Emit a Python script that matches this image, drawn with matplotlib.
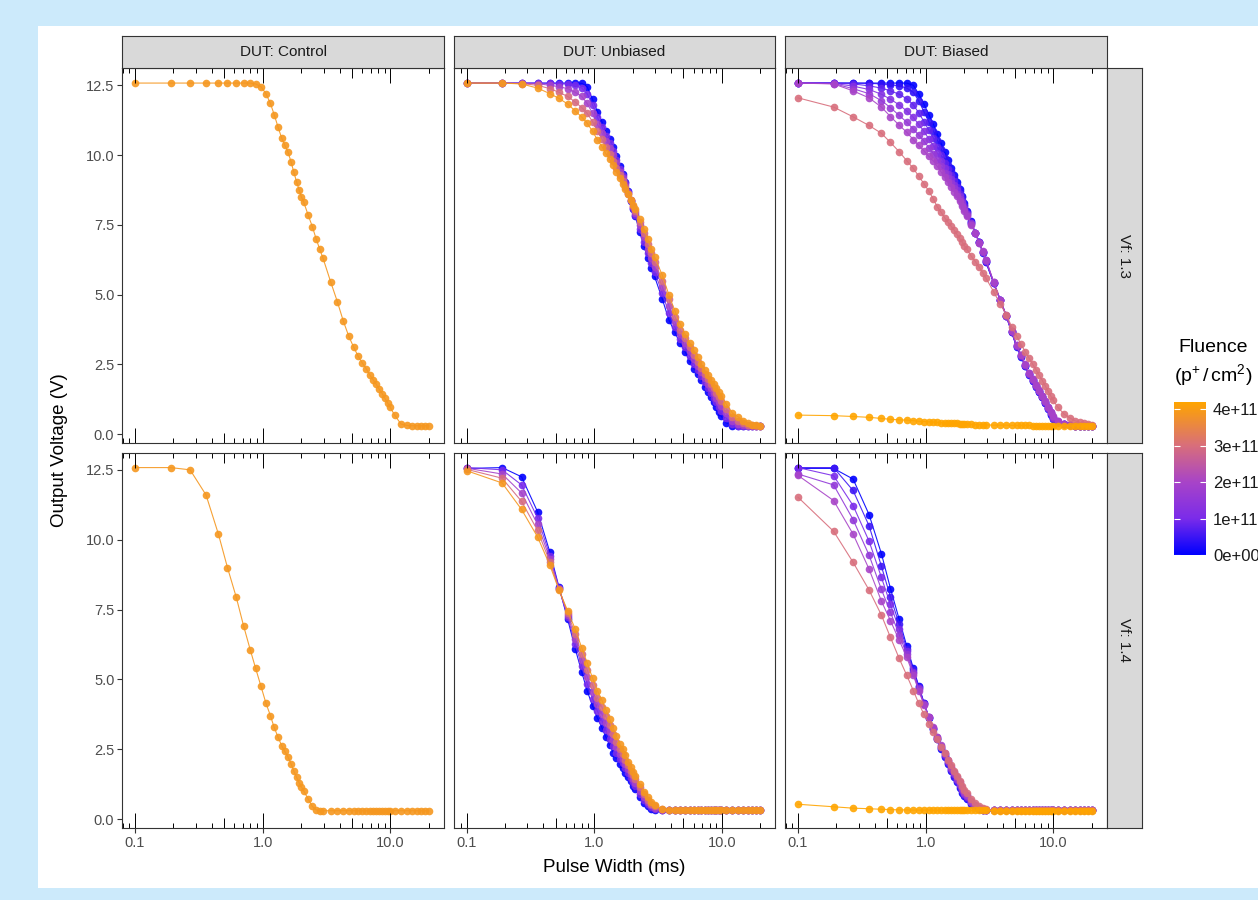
import matplotlib
matplotlib.use("Agg")
import matplotlib.pyplot as plt
import numpy as np
from matplotlib.colors import LinearSegmentedColormap, Normalize
from matplotlib.ticker import FixedLocator, NullLocator

plt.rcParams['font.family'] = ['Liberation Sans', 'DejaVu Sans']
plt.rcParams['mathtext.fontset'] = 'custom'
plt.rcParams['mathtext.rm'] = 'Liberation Sans'
plt.rcParams['mathtext.it'] = 'Liberation Sans:italic'

# ---- data ---------------------------------------------------------------
pulse_ms = [0.10, 0.19, 0.27, 0.36, 0.45, 0.53, 0.62, 0.71, 0.80, 0.88, 0.97, 1.06,
            1.15, 1.23, 1.32, 1.41, 1.49, 1.58, 1.67, 1.75, 1.84, 1.93, 2.01, 2.10, 2.27, 2.45, 2.62, 2.80, 2.97,
            3.41, 3.84, 4.28, 4.71, 5.15, 5.58, 6.02, 6.45, 6.89, 7.32, 7.76, 8.19, 8.63, 9.06, 9.50, 9.93,
            10.80, 12.10, 13.41, 14.71, 16.02, 17.32, 18.63, 20.00]

duts = ["DUT: Control", "DUT: Unbiased", "DUT: Biased"]
vf_levels = ["Vf: 1.3", "Vf: 1.4"]

# Control
fluence_ctrl = [3.9e11]
v_ctrl_13 = [
    [12.58, 12.58, 12.58, 12.58, 12.58, 12.58, 12.58, 12.58, 12.58, 12.55, 12.45, 12.2,
     11.85, 11.45, 11.0, 10.6, 10.35, 10.1, 9.75, 9.4, 9.05, 8.75, 8.5, 8.3, 7.85, 7.43, 7.0, 6.62, 6.3,
     5.45, 4.75, 4.05, 3.52, 3.12, 2.8, 2.55, 2.35, 2.12, 1.95, 1.78, 1.6, 1.45, 1.28, 1.12, 0.97,
     0.68, 0.36, 0.31, 0.3, 0.3, 0.3, 0.3, 0.3],
]
v_ctrl_14 = [
    [12.58, 12.58, 12.5, 11.6, 10.2, 9.0, 7.95, 6.9, 6.05, 5.4, 4.75, 4.15,
     3.7, 3.28, 2.93, 2.62, 2.42, 2.22, 1.97, 1.72, 1.5, 1.3, 1.15, 1.0, 0.72, 0.45, 0.33, 0.3, 0.3,
     0.3, 0.3, 0.3, 0.3, 0.3, 0.3, 0.3, 0.3, 0.3, 0.3, 0.3, 0.3, 0.3, 0.3, 0.3, 0.3,
     0.3, 0.3, 0.3, 0.3, 0.3, 0.3, 0.3, 0.3],
]

# Unbiased
fluence_unb = [0.0, 0.98e11, 1.95e11, 2.93e11, 3.9e11]
v_unb_13 = [
    [12.58, 12.58, 12.58, 12.58, 12.58, 12.58, 12.58, 12.58, 12.57, 12.45, 12.0, 11.55,
     11.2, 10.85, 10.58, 10.3, 9.95, 9.6, 9.33, 9.05, 8.7, 8.35, 8.08, 7.8, 7.25, 6.75, 6.3, 5.95, 5.65,
     4.85, 4.1, 3.65, 3.25, 2.95, 2.62, 2.35, 2.15, 1.95, 1.7, 1.5, 1.32, 1.15, 0.97, 0.8, 0.63,
     0.4, 0.3, 0.28, 0.28, 0.28, 0.28, 0.28, 0.28],
    [12.58, 12.58, 12.58, 12.58, 12.57, 12.56, 12.55, 12.5, 12.4, 12.2, 11.8, 11.35,
     11.02, 10.7, 10.42, 10.15, 9.82, 9.5, 9.25, 9.0, 8.68, 8.36, 8.1, 7.86, 7.36, 6.9, 6.48, 6.12, 5.82,
     5.06, 4.35, 3.84, 3.41, 3.11, 2.79, 2.51, 2.3, 2.09, 1.85, 1.66, 1.48, 1.31, 1.14, 0.98, 0.81,
     0.57, 0.36, 0.3, 0.29, 0.28, 0.28, 0.28, 0.28],
    [12.58, 12.58, 12.57, 12.56, 12.5, 12.45, 12.38, 12.25, 12.1, 11.85, 11.5, 11.1,
     10.8, 10.5, 10.25, 10.0, 9.7, 9.4, 9.16, 8.92, 8.65, 8.38, 8.15, 7.92, 7.48, 7.05, 6.65, 6.3, 6.0,
     5.28, 4.6, 4.02, 3.58, 3.28, 2.96, 2.68, 2.45, 2.22, 2.0, 1.81, 1.64, 1.48, 1.31, 1.15, 0.99,
     0.74, 0.48, 0.36, 0.32, 0.3, 0.29, 0.29, 0.29],
    [12.58, 12.58, 12.56, 12.5, 12.38, 12.25, 12.1, 11.9, 11.7, 11.5, 11.2, 10.85,
     10.58, 10.3, 10.05, 9.8, 9.55, 9.3, 9.07, 8.85, 8.62, 8.39, 8.19, 7.99, 7.59, 7.2, 6.83, 6.48, 6.18,
     5.49, 4.85, 4.21, 3.74, 3.44, 3.13, 2.84, 2.6, 2.36, 2.15, 1.97, 1.79, 1.64, 1.48, 1.33, 1.17,
     0.91, 0.6, 0.47, 0.38, 0.33, 0.31, 0.3, 0.3],
    [12.58, 12.58, 12.55, 12.4, 12.2, 12.03, 11.83, 11.58, 11.36, 11.15, 10.85, 10.55,
     10.3, 10.06, 9.85, 9.63, 9.4, 9.18, 8.98, 8.78, 8.59, 8.4, 8.22, 8.05, 7.7, 7.35, 7.0, 6.65, 6.35,
     5.7, 5.0, 4.42, 3.95, 3.58, 3.28, 3.0, 2.75, 2.5, 2.3, 2.12, 1.95, 1.8, 1.65, 1.5, 1.35,
     1.08, 0.75, 0.62, 0.48, 0.38, 0.33, 0.31, 0.3],
]
v_unb_14 = [
    [12.55, 12.58, 12.25, 11.0, 9.55, 8.3, 7.15, 6.1, 5.25, 4.6, 4.05, 3.62,
     3.27, 2.95, 2.65, 2.38, 2.17, 1.98, 1.82, 1.66, 1.5, 1.35, 1.2, 1.06, 0.8, 0.58, 0.45, 0.36, 0.33,
     0.32, 0.32, 0.32, 0.32, 0.32, 0.32, 0.32, 0.32, 0.32, 0.32, 0.32, 0.32, 0.32, 0.32, 0.32, 0.32,
     0.32, 0.32, 0.32, 0.32, 0.32, 0.32, 0.32, 0.32],
    [12.58, 12.5, 11.96, 10.78, 9.43, 8.28, 7.22, 6.28, 5.47, 4.85, 4.3, 3.86,
     3.52, 3.19, 2.88, 2.6, 2.37, 2.16, 1.99, 1.82, 1.65, 1.48, 1.33, 1.18, 0.91, 0.68, 0.53, 0.42, 0.37,
     0.33, 0.32, 0.32, 0.32, 0.32, 0.32, 0.32, 0.32, 0.32, 0.32, 0.32, 0.32, 0.32, 0.32, 0.32, 0.32,
     0.32, 0.32, 0.32, 0.32, 0.32, 0.32, 0.32, 0.32],
    [12.56, 12.35, 11.67, 10.55, 9.32, 8.25, 7.3, 6.45, 5.68, 5.1, 4.55, 4.11,
     3.76, 3.43, 3.12, 2.82, 2.57, 2.34, 2.15, 1.97, 1.78, 1.6, 1.45, 1.3, 1.02, 0.78, 0.62, 0.49, 0.41,
     0.34, 0.33, 0.32, 0.32, 0.32, 0.32, 0.32, 0.32, 0.32, 0.32, 0.32, 0.32, 0.32, 0.32, 0.32, 0.32,
     0.32, 0.32, 0.32, 0.32, 0.32, 0.32, 0.32, 0.32],
    [12.52, 12.2, 11.37, 10.33, 9.2, 8.22, 7.38, 6.62, 5.9, 5.35, 4.8, 4.35,
     4.0, 3.68, 3.35, 3.03, 2.77, 2.52, 2.32, 2.13, 1.93, 1.73, 1.57, 1.42, 1.14, 0.88, 0.7, 0.55, 0.46,
     0.35, 0.33, 0.32, 0.32, 0.32, 0.32, 0.32, 0.32, 0.32, 0.32, 0.32, 0.32, 0.32, 0.32, 0.32, 0.32,
     0.32, 0.32, 0.32, 0.32, 0.32, 0.32, 0.32, 0.32],
    [12.47, 12.03, 11.08, 10.1, 9.08, 8.2, 7.45, 6.8, 6.12, 5.6, 5.05, 4.6,
     4.25, 3.92, 3.58, 3.25, 2.97, 2.7, 2.49, 2.28, 2.06, 1.85, 1.69, 1.54, 1.25, 0.98, 0.78, 0.62, 0.5,
     0.36, 0.33, 0.32, 0.32, 0.32, 0.32, 0.32, 0.32, 0.32, 0.32, 0.32, 0.32, 0.32, 0.32, 0.32, 0.32,
     0.32, 0.32, 0.32, 0.32, 0.32, 0.32, 0.32, 0.32],
]

# Biased
fluence_bia_13 = [0.0, 0.4e11, 0.8e11, 1.2e11, 1.6e11, 2.0e11, 3.0e11, 4.2e11]
v_bia_13 = [
    [12.58, 12.58, 12.58, 12.58, 12.58, 12.58, 12.58, 12.58, 12.5, 12.2, 11.82, 11.45,
     11.1, 10.75, 10.42, 10.1, 9.82, 9.55, 9.3, 9.05, 8.8, 8.55, 8.27, 8.0, 7.62, 7.2, 6.9, 6.5, 6.15,
     5.4, 4.8, 4.22, 3.65, 3.12, 2.78, 2.43, 2.12, 1.9, 1.7, 1.5, 1.32, 1.12, 0.9, 0.7, 0.54,
     0.42, 0.35, 0.32, 0.3, 0.3, 0.3, 0.3, 0.3],
    [12.58, 12.58, 12.58, 12.57, 12.55, 12.52, 12.48, 12.4, 12.25, 11.95, 11.55, 11.18,
     10.86, 10.55, 10.22, 9.88, 9.65, 9.43, 9.18, 8.94, 8.71, 8.48, 8.22, 7.96, 7.6, 7.2, 6.89, 6.51, 6.17,
     5.41, 4.8, 4.23, 3.66, 3.14, 2.79, 2.44, 2.14, 1.91, 1.71, 1.51, 1.33, 1.13, 0.92, 0.72, 0.56,
     0.43, 0.35, 0.32, 0.3, 0.3, 0.3, 0.3, 0.3],
    [12.58, 12.58, 12.55, 12.48, 12.4, 12.3, 12.18, 12.02, 11.8, 11.52, 11.2, 10.88,
     10.6, 10.3, 10.0, 9.7, 9.49, 9.28, 9.06, 8.84, 8.62, 8.4, 8.16, 7.93, 7.57, 7.2, 6.88, 6.52, 6.19,
     5.42, 4.8, 4.23, 3.67, 3.15, 2.81, 2.46, 2.15, 1.93, 1.73, 1.53, 1.34, 1.14, 0.93, 0.74, 0.58,
     0.44, 0.36, 0.32, 0.3, 0.3, 0.3, 0.3, 0.3],
    [12.58, 12.57, 12.47, 12.35, 12.18, 12.0, 11.8, 11.58, 11.35, 11.1, 10.85, 10.57,
     10.33, 10.08, 9.8, 9.53, 9.33, 9.14, 8.93, 8.73, 8.53, 8.33, 8.11, 7.89, 7.55, 7.2, 6.87, 6.53, 6.21,
     5.43, 4.8, 4.24, 3.68, 3.17, 2.82, 2.47, 2.17, 1.94, 1.74, 1.54, 1.36, 1.16, 0.95, 0.76, 0.59,
     0.45, 0.36, 0.33, 0.3, 0.3, 0.3, 0.3, 0.3],
    [12.58, 12.56, 12.38, 12.2, 11.95, 11.7, 11.42, 11.18, 10.93, 10.72, 10.5, 10.26,
     10.05, 9.84, 9.6, 9.37, 9.18, 9.0, 8.81, 8.62, 8.43, 8.25, 8.05, 7.86, 7.52, 7.2, 6.86, 6.54, 6.23,
     5.44, 4.8, 4.24, 3.69, 3.18, 2.84, 2.49, 2.18, 1.96, 1.76, 1.56, 1.37, 1.17, 0.96, 0.78, 0.61,
     0.46, 0.37, 0.33, 0.3, 0.3, 0.3, 0.3, 0.3],
    [12.58, 12.55, 12.3, 12.05, 11.72, 11.38, 11.07, 10.82, 10.55, 10.35, 10.15, 9.95,
     9.78, 9.6, 9.4, 9.2, 9.02, 8.85, 8.68, 8.52, 8.35, 8.18, 8.0, 7.82, 7.5, 7.2, 6.85, 6.55, 6.25,
     5.45, 4.8, 4.25, 3.7, 3.2, 2.85, 2.5, 2.2, 1.97, 1.77, 1.57, 1.38, 1.18, 0.98, 0.8, 0.63,
     0.47, 0.37, 0.33, 0.3, 0.3, 0.3, 0.3, 0.3],
    [12.05, 11.72, 11.37, 11.06, 10.78, 10.45, 10.12, 9.8, 9.52, 9.25, 8.97, 8.7,
     8.42, 8.15, 7.95, 7.75, 7.6, 7.45, 7.31, 7.17, 7.02, 6.88, 6.75, 6.63, 6.38, 6.18, 5.98, 5.78, 5.58,
     5.1, 4.65, 4.28, 3.85, 3.52, 3.22, 2.95, 2.72, 2.5, 2.3, 2.1, 1.92, 1.73, 1.55, 1.38, 1.22,
     0.97, 0.72, 0.58, 0.48, 0.42, 0.38, 0.36, 0.34],
    [0.68, 0.66, 0.63, 0.6, 0.56, 0.53, 0.51, 0.5, 0.48, 0.46, 0.45, 0.44,
     0.43, 0.42, 0.41, 0.4, 0.4, 0.39, 0.38, 0.38, 0.37, 0.37, 0.36, 0.36, 0.35, 0.34, 0.34, 0.33, 0.33,
     0.32, 0.32, 0.32, 0.31, 0.31, 0.31, 0.31, 0.31, 0.3, 0.3, 0.3, 0.3, 0.3, 0.3, 0.3, 0.3,
     0.3, 0.3, 0.3, 0.3, 0.3, 0.3, 0.3, 0.3],
]
fluence_bia_14 = [0.0, 0.5e11, 1.0e11, 1.5e11, 2.0e11, 3.0e11, 4.2e11]
v_bia_14 = [
    [12.55, 12.55, 12.17, 10.9, 9.5, 8.25, 7.15, 6.2, 5.4, 4.78, 4.17, 3.63,
     3.22, 2.85, 2.52, 2.22, 1.96, 1.72, 1.51, 1.32, 1.12, 0.95, 0.82, 0.71, 0.54, 0.42, 0.36, 0.33, 0.32,
     0.32, 0.32, 0.32, 0.32, 0.32, 0.32, 0.32, 0.32, 0.32, 0.32, 0.32, 0.32, 0.32, 0.32, 0.32, 0.32,
     0.32, 0.32, 0.32, 0.32, 0.32, 0.32, 0.32, 0.32],
    [12.58, 12.58, 11.76, 10.5, 9.05, 7.95, 6.98, 6.1, 5.35, 4.74, 4.15, 3.63,
     3.24, 2.87, 2.55, 2.25, 1.99, 1.76, 1.55, 1.36, 1.17, 0.99, 0.86, 0.74, 0.57, 0.44, 0.37, 0.33, 0.32,
     0.32, 0.32, 0.32, 0.32, 0.32, 0.32, 0.32, 0.32, 0.32, 0.32, 0.32, 0.32, 0.32, 0.32, 0.32, 0.32,
     0.32, 0.32, 0.32, 0.32, 0.32, 0.32, 0.32, 0.32],
    [12.58, 12.29, 11.22, 9.95, 8.65, 7.68, 6.8, 6.0, 5.28, 4.7, 4.13, 3.64,
     3.26, 2.9, 2.58, 2.28, 2.03, 1.8, 1.6, 1.41, 1.21, 1.03, 0.9, 0.78, 0.6, 0.46, 0.38, 0.34, 0.32,
     0.32, 0.32, 0.32, 0.32, 0.32, 0.32, 0.32, 0.32, 0.32, 0.32, 0.32, 0.32, 0.32, 0.32, 0.32, 0.32,
     0.32, 0.32, 0.32, 0.32, 0.32, 0.32, 0.32, 0.32],
    [12.35, 11.96, 10.72, 9.45, 8.22, 7.4, 6.6, 5.9, 5.22, 4.65, 4.12, 3.64,
     3.27, 2.92, 2.61, 2.32, 2.07, 1.84, 1.64, 1.45, 1.26, 1.08, 0.94, 0.81, 0.62, 0.48, 0.39, 0.34, 0.33,
     0.32, 0.32, 0.32, 0.32, 0.32, 0.32, 0.32, 0.32, 0.32, 0.32, 0.32, 0.32, 0.32, 0.32, 0.32, 0.32,
     0.32, 0.32, 0.32, 0.32, 0.32, 0.32, 0.32, 0.32],
    [12.3, 11.4, 10.2, 8.95, 7.8, 7.1, 6.4, 5.8, 5.15, 4.6, 4.1, 3.65,
     3.29, 2.95, 2.64, 2.35, 2.1, 1.88, 1.69, 1.5, 1.31, 1.12, 0.98, 0.85, 0.65, 0.5, 0.4, 0.35, 0.33,
     0.32, 0.32, 0.32, 0.32, 0.32, 0.32, 0.32, 0.32, 0.32, 0.32, 0.32, 0.32, 0.32, 0.32, 0.32, 0.32,
     0.32, 0.32, 0.32, 0.32, 0.32, 0.32, 0.32, 0.32],
    [11.52, 10.3, 9.19, 8.2, 7.3, 6.5, 5.75, 5.15, 4.6, 4.15, 3.75, 3.4,
     3.12, 2.85, 2.59, 2.35, 2.13, 1.92, 1.73, 1.55, 1.37, 1.2, 1.05, 0.92, 0.72, 0.56, 0.45, 0.38, 0.35,
     0.33, 0.32, 0.32, 0.32, 0.32, 0.32, 0.32, 0.32, 0.32, 0.32, 0.32, 0.32, 0.32, 0.32, 0.32, 0.32,
     0.32, 0.32, 0.32, 0.32, 0.32, 0.32, 0.32, 0.32],
    [0.53, 0.44, 0.39, 0.37, 0.35, 0.34, 0.33, 0.33, 0.32, 0.32, 0.32, 0.32,
     0.31, 0.31, 0.31, 0.31, 0.31, 0.31, 0.31, 0.31, 0.31, 0.31, 0.31, 0.31, 0.31, 0.31, 0.31, 0.31, 0.31,
     0.3, 0.3, 0.3, 0.3, 0.3, 0.3, 0.3, 0.3, 0.3, 0.3, 0.3, 0.3, 0.3, 0.3, 0.3, 0.3,
     0.3, 0.3, 0.3, 0.3, 0.3, 0.3, 0.3, 0.3],
]

panels = {
    (0, 0): (fluence_ctrl, v_ctrl_13), (1, 0): (fluence_ctrl, v_ctrl_14),
    (0, 1): (fluence_unb, v_unb_13), (1, 1): (fluence_unb, v_unb_14),
    (0, 2): (fluence_bia_13, v_bia_13), (1, 2): (fluence_bia_14, v_bia_14),
}

cbar_ticks = [0, 1e11, 2e11, 3e11, 4e11]
cbar_labels = ["0e+00", "1e+11", "2e+11", "3e+11", "4e+11"]

# ---- colours / layout ---------------------------------------------------
cmap = LinearSegmentedColormap.from_list(
    "fluence", [(0.0, "#0000FF"), (0.238, "#7B2CEA"), (0.476, "#A844C8"),
                (0.714, "#D86E7C"), (1.0, "#FFA500")])
norm = Normalize(vmin=0, vmax=4.2e11)

W, H = 1258, 900
fig = plt.figure(figsize=(W / 100, H / 100), dpi=100)
fig.patch.set_facecolor("#CCEAFB")
# white page area behind everything
bg = fig.add_axes([38 / W, 12 / H, 1 - 38 / W, 862 / H], zorder=-10)
bg.set_facecolor("white")
bg.set_xticks([])
bg.set_yticks([])
for s in bg.spines.values():
    s.set_visible(False)


def box(x0, y0, x1, y1):
    return [x0 / W, 1 - y1 / H, (x1 - x0) / W, (y1 - y0) / H]


cols = [(122, 444), (453.5, 775.5), (785, 1107)]
rows = [(68, 443), (452.5, 828)]
xlim = (0.0791, 26.3)
ylim = (-0.32, 13.12)

log_ticks = [0.08, 0.09] + [m * 10.0 ** e for e in (-1, 0, 1) for m in range(1, 10)] + [20]

for r, (y0, y1) in enumerate(rows):
    for c, (x0, x1) in enumerate(cols):
        ax = fig.add_axes(box(x0, y0, x1, y1))
        fl, series = panels[(r, c)]
        for f, v in zip(fl, series):
            ax.plot(pulse_ms, v, color=cmap(norm(f)), lw=0.8, marker="o", ms=5.5,
                    mew=0, alpha=0.9)
        ax.set_xscale("log")
        ax.set_xlim(*xlim)
        ax.set_ylim(*ylim)
        ax.xaxis.set_major_locator(FixedLocator([0.1, 1, 10]))
        ax.xaxis.set_minor_locator(NullLocator())
        ax.set_yticks([0, 2.5, 5, 7.5, 10, 12.5])
        ax.set_xticklabels(["0.1", "1.0", "10.0"])
        ax.set_yticklabels(["0.0", "2.5", "5.0", "7.5", "10.0", "12.5"])
        ax.tick_params(direction="out", length=3.5, width=0.8, color="#333333",
                       labelcolor="#4D4D4D", labelsize=10.5, pad=2)
        if c != 0:
            ax.tick_params(axis="y", length=0, labelleft=False)
        if r != 1:
            ax.tick_params(axis="x", length=0, labelbottom=False)
        for s in ax.spines.values():
            s.set_color("#333333")
            s.set_linewidth(0.8)
        # log ticks drawn inside, top and bottom
        hpx = y1 - y0
        for t in log_ticks:
            lead = f"{t:.0e}"[0]
            ln = 15 if lead == "1" else (10 if lead == "5" else 5)
            fr = ln / hpx
            ax.vlines(t, 0, fr, transform=ax.get_xaxis_transform(), colors="black", lw=0.7)
            ax.vlines(t, 1 - fr, 1, transform=ax.get_xaxis_transform(), colors="black", lw=0.7)

        if r == 0:
            sax = fig.add_axes(box(x0, 36, x1, 68))
            sax.set_facecolor("#D9D9D9")
            sax.set_xticks([])
            sax.set_yticks([])
            for s in sax.spines.values():
                s.set_color("#333333")
                s.set_linewidth(0.8)
            sax.text(0.5, 0.5, duts[c], ha="center", va="center", fontsize=11,
                     color="#1A1A1A", transform=sax.transAxes)
    rax = fig.add_axes(box(1107, y0, 1142, y1))
    rax.set_facecolor("#D9D9D9")
    rax.set_xticks([])
    rax.set_yticks([])
    for s in rax.spines.values():
        s.set_color("#333333")
        s.set_linewidth(0.8)
    rax.text(0.5, 0.5, vf_levels[r], ha="center", va="center", rotation=-90,
             fontsize=11, color="#1A1A1A", transform=rax.transAxes)

fig.text(60 / W, 1 - 450 / H, "Output Voltage (V)", rotation=90, ha="center",
         va="center", fontsize=13.5, color="black")
fig.text(614 / W, 1 - 868 / H, "Pulse Width (ms)", ha="center", va="center",
         fontsize=13.5, color="black")

# colour bar legend
fig.text(1213 / W, 1 - 348 / H, "Fluence", ha="center", va="center", fontsize=14)
fig.text(1213 / W, 1 - 375 / H, r"$(\mathrm{p}^{+}\,/\,\mathrm{cm}^{2})$", ha="center",
         va="center", fontsize=14)
cax = fig.add_axes(box(1174, 402, 1206, 555))
grad = np.linspace(0, 4.2e11, 256).reshape(-1, 1)
cax.imshow(grad, aspect="auto", cmap=cmap, norm=norm, origin="lower",
           extent=[0, 1, 0, 4.2e11])
cax.set_xlim(0, 1)
cax.set_ylim(0, 4.2e11)
cax.hlines(cbar_ticks, 0, 0.2, colors="white", lw=0.8)
cax.hlines(cbar_ticks, 0.8, 1, colors="white", lw=0.8)
cax.set_xticks([])
cax.yaxis.tick_right()
cax.set_yticks(cbar_ticks)
cax.set_yticklabels(cbar_labels)
cax.tick_params(axis="y", length=0, pad=5, labelsize=12, labelcolor="#1A1A1A")
for s in cax.spines.values():
    s.set_visible(False)

fig.savefig("out.png", dpi=100, facecolor=fig.get_facecolor())
